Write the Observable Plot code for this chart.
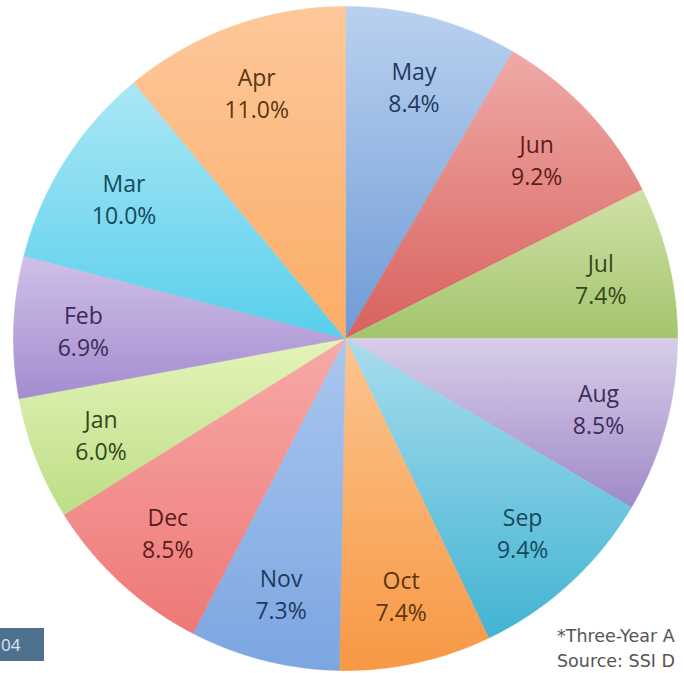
<!DOCTYPE html>
<html>
<head>
<meta charset="utf-8">
<script src="https://cdn.jsdelivr.net/npm/d3@7"></script>
<script src="https://cdn.jsdelivr.net/npm/@observablehq/plot@0.6"></script>
<style>
  html, body { margin: 0; padding: 0; background: #ffffff; }
  #wrap { position: relative; width: 684px; height: 673px; overflow: hidden; }
  #badge { position: absolute; left: 0; top: 628px; width: 44px; height: 33px; background: #4f7190;
           color: #dfe7ee; font: 17px "Open Sans", sans-serif; line-height: 33px; text-align: left;
           padding-left: 1px; box-sizing: border-box; }
  #note { position: absolute; left: 557px; top: 624px; font: 17.5px "DejaVu Sans", sans-serif; color: #555;
          line-height: 25px; white-space: nowrap; }
</style>
</head>
<body>
<div id="wrap"></div>
<script>
// Data (clockwise from 12 o'clock)
const months = ["May","Jun","Jul","Aug","Sep","Oct","Nov","Dec","Jan","Feb","Mar","Apr"];
const shares = [8.4, 9.2, 7.4, 8.5, 9.4, 7.4, 7.3, 8.5, 6.0, 6.9, 10.0, 11.0];
const lightColors = ["#bad1ef","#efaaa7","#d0e1a9","#d8cee9","#a8ddee","#fcc590","#aac7ef","#f6aaa8","#e4f4ba","#cfc0e8","#abe7f6","#fdc89b"];
const darkColors  = ["#6e9bd6","#d8615d","#a3c56c","#a089c8","#42b4d2","#f79844","#7ba6e1","#ee7876","#bcdd85","#a48ccf","#58cfeb","#fbad66"];
const textColors  = ["#1f3a5e","#5c1c1c","#34481b","#3b2b58","#15495c","#5c3611","#1f3a5e","#5c1c1c","#34481b","#3b2b58","#15495c","#5c3611"];
// corner texts as visible in the (cropped) reference
const badgeText = "04";
const noteLines = ["*Three-Year A", "Source: SSI D"];

const pie = d3.pie().sort(null).value(d => d)(shares);

// slice outlines in unit-circle coordinates
const marks = [];
pie.forEach((p, i) => {
  const pts = [{x: 0, y: 0}];
  const n = Math.max(2, Math.ceil((p.endAngle - p.startAngle) / 0.01));
  for (let k = 0; k <= n; k++) {
    const a = p.startAngle + (p.endAngle - p.startAngle) * k / n;
    pts.push({x: Math.sin(a), y: Math.cos(a)});
  }
  pts.push({x: 0, y: 0});
  marks.push(Plot.line(pts, {x: "x", y: "y", fill: `url(#grad${i})`, stroke: `url(#grad${i})`, strokeWidth: 0.6, curve: "linear"}));
});

const labels = pie.map((p, i) => {
  const a = (p.startAngle + p.endAngle) / 2;
  return {x: 0.79 * Math.sin(a), y: 0.79 * Math.cos(a), text: `${months[i]}\n${shares[i].toFixed(1)}%`, color: textColors[i]};
});

const chart = Plot.plot({
  width: 684,
  height: 673,
  marginLeft: 13,
  marginRight: 7,
  marginTop: 6,
  marginBottom: 3,
  x: {domain: [-1, 1], axis: null},
  y: {domain: [-1, 1], axis: null},
  style: {background: "transparent", fontFamily: "'Open Sans', sans-serif"},
  marks: [
    ...marks,
    Plot.text(labels, {x: "x", y: "y", text: "text", fill: "color", fontSize: 23, lineHeight: 1.4, fontFamily: "'Open Sans', sans-serif"})
  ]
});

// gradients: light at top of each slice, darker at bottom
const svg = d3.select(chart);
const defs = svg.insert("defs", ":first-child");
lightColors.forEach((c, i) => {
  const g = defs.append("linearGradient").attr("id", `grad${i}`)
    .attr("x1", 0).attr("y1", 0).attr("x2", 0).attr("y2", 1);
  g.append("stop").attr("offset", "0%").attr("stop-color", c);
  g.append("stop").attr("offset", "100%").attr("stop-color", darkColors[i]);
});

const wrap = document.getElementById("wrap");
wrap.appendChild(chart);
const badge = document.createElement("div");
badge.id = "badge"; badge.textContent = badgeText;
wrap.appendChild(badge);
const note = document.createElement("div");
note.id = "note";
noteLines.forEach((t, i) => {
  if (i) note.appendChild(document.createElement("br"));
  note.appendChild(document.createTextNode(t));
});
wrap.appendChild(note);
</script>
</body>
</html>
